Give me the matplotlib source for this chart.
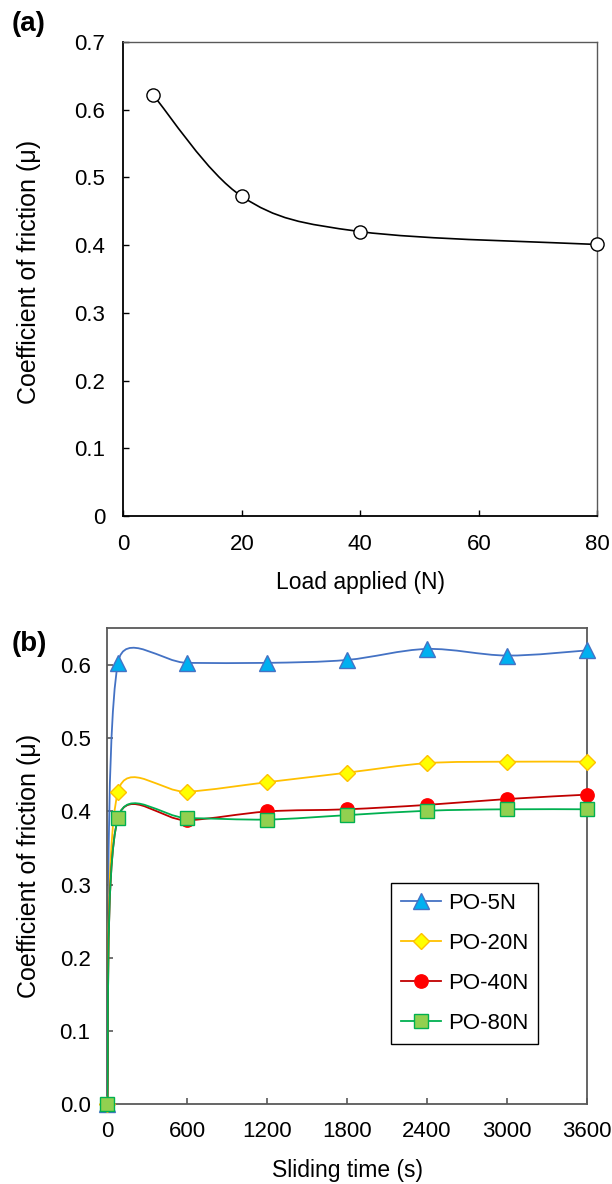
import numpy as np
import matplotlib
matplotlib.use("Agg")
import matplotlib.pyplot as plt
from matplotlib.path import Path
from matplotlib.patches import PathPatch
from matplotlib.lines import Line2D

plt.rcParams['font.family'] = ['Liberation Sans', 'DejaVu Sans']

# (a) friction vs load
load = [5, 20, 40, 80]
mu_load = [0.622, 0.472, 0.420, 0.401]

# (b) friction vs sliding time
time_s = [0, 80, 600, 1200, 1800, 2400, 3000, 3600]
mu_5n = [0.0, 0.603, 0.603, 0.603, 0.607, 0.622, 0.613, 0.620]
mu_20n = [0.0, 0.427, 0.427, 0.440, 0.453, 0.466, 0.468, 0.468]
mu_40n = [0.0, 0.391, 0.388, 0.400, 0.403, 0.409, 0.417, 0.423]
mu_80n = [0.0, 0.391, 0.391, 0.389, 0.395, 0.401, 0.403, 0.403]
labels_b = ['PO-5N', 'PO-20N', 'PO-40N', 'PO-80N']

W, H = 612, 1184


def excel_smooth(ax, xs, ys, color, lw, z):
    # bezier smoothing like Excel's "smoothed line", done in pixel space
    pts = ax.transData.transform(np.column_stack([xs, ys]))
    n = len(pts)
    verts = [pts[0]]
    codes = [Path.MOVETO]
    for i in range(n - 1):
        p0 = pts[max(i - 1, 0)]
        p1 = pts[i]
        p2 = pts[i + 1]
        p3 = pts[min(i + 2, n - 1)]
        seg = np.hypot(*(p2 - p1))
        t1 = (p2 - p0) / 6.0
        l1 = np.hypot(*t1)
        if l1 > seg / 2:
            t1 = t1 * (seg / 2) / l1
        t2 = (p3 - p1) / 6.0
        l2 = np.hypot(*t2)
        if l2 > seg / 2:
            t2 = t2 * (seg / 2) / l2
        verts += [p1 + t1, p2 - t2, p2]
        codes += [Path.CURVE4] * 3
    verts = ax.transData.inverted().transform(np.array(verts))
    ax.add_patch(PathPatch(Path(verts, codes), fc='none', ec=color, lw=lw, zorder=z))


fig = plt.figure(figsize=(W / 100, H / 100), dpi=100)

# ---------- (a) ----------
ax1 = fig.add_axes([0.2015, 0.5642, 0.7745, 0.4003])
ax1.set_xlim(0, 80)
ax1.set_ylim(0, 0.7)
ax1.set_xticks([0, 20, 40, 60, 80])
ax1.set_yticks(np.arange(0, 0.71, 0.1))
ax1.set_yticklabels(['0', '0.1', '0.2', '0.3', '0.4', '0.5', '0.6', '0.7'])
for k in ['left', 'bottom']:
    ax1.spines[k].set_linewidth(1.3)
    ax1.spines[k].set_color('black')
for k in ['top', 'right']:
    ax1.spines[k].set_linewidth(1.0)
    ax1.spines[k].set_color('#595959')
ax1.tick_params(direction='in', length=4, width=1, labelsize=16, pad=13,
                top=False, right=False)
excel_smooth(ax1, load, mu_load, 'black', 1.2, 2)
ax1.plot(load, mu_load, ls='none', marker='o', ms=9.5, mfc='white', mec='black',
         mew=1.0, zorder=3, clip_on=False)
fig.text(360 / W, 1 - 582 / H, 'Load applied (N)', fontsize=16.5, ha='center', va='center')
fig.text(29 / W, 1 - 272 / H, 'Coefficient of friction (μ)', fontsize=18,
         ha='center', va='center', rotation=90)
fig.text(12 / W, 1 - 24 / H, '(a)', fontsize=20, fontweight='bold', va='center', ha='left')

# ---------- (b) ----------
ax2 = fig.add_axes([0.1753, 0.0673, 0.7833, 0.4019])
ax2.set_xlim(0, 3600)
ax2.set_ylim(0, 0.65)
ax2.set_xticks([0, 600, 1200, 1800, 2400, 3000, 3600])
ax2.set_yticks(np.arange(0, 0.61, 0.1))
ax2.set_yticklabels(['0.0', '0.1', '0.2', '0.3', '0.4', '0.5', '0.6'])
for s in ax2.spines.values():
    s.set_linewidth(1.3)
    s.set_color('#595959')
ax2.tick_params(direction='in', length=4, width=1.2, color='#595959',
                labelsize=16, pad=12, top=False, right=False)

series = [mu_5n, mu_20n, mu_40n, mu_80n]
line_cols = ['#4472C4', '#FFC000', '#C00000', '#00B050']
face_cols = ['#00B0F0', '#FFFF00', '#FF0000', '#92D050']
edge_cols = ['#4472C4', '#FFC000', '#FF0000', '#00B050']
markers = ['^', 'D', 'o', 's']
msizes = [12, 8.2, 9.6, 9.5]

handles = []
for i, ys in enumerate(series):
    excel_smooth(ax2, time_s, ys, line_cols[i], 1.3, 2 + 2 * i)
    ax2.plot(time_s, ys, ls='none', marker=markers[i], ms=msizes[i],
             mfc=face_cols[i], mec=edge_cols[i], mew=1.0, zorder=3 + 2 * i,
             clip_on=False)
    handles.append(Line2D([], [], color=line_cols[i], lw=1.3, marker=markers[i],
                          ms=msizes[i], mfc=face_cols[i], mec=edge_cols[i], mew=1.0))

leg = ax2.legend(handles, labels_b, loc='upper left',
                 bbox_to_anchor=(391 / W, 1 - 883 / H),
                 bbox_transform=fig.transFigure, borderaxespad=0,
                 fontsize=16, frameon=True, fancybox=False, edgecolor='black',
                 handlelength=1.8, handletextpad=0.3, labelspacing=0.85, borderpad=0.45)
leg.get_frame().set_linewidth(1.0)
leg.get_frame().set_alpha(1)

fig.text(347 / W, 1 - 1170 / H, 'Sliding time (s)', fontsize=16.5, ha='center', va='center')
fig.text(29 / W, 1 - 866 / H, 'Coefficient of friction (μ)', fontsize=18,
         ha='center', va='center', rotation=90)
fig.text(12 / W, 1 - 644 / H, '(b)', fontsize=20, fontweight='bold', va='center', ha='left')

fig.savefig('out.png', dpi=100)
